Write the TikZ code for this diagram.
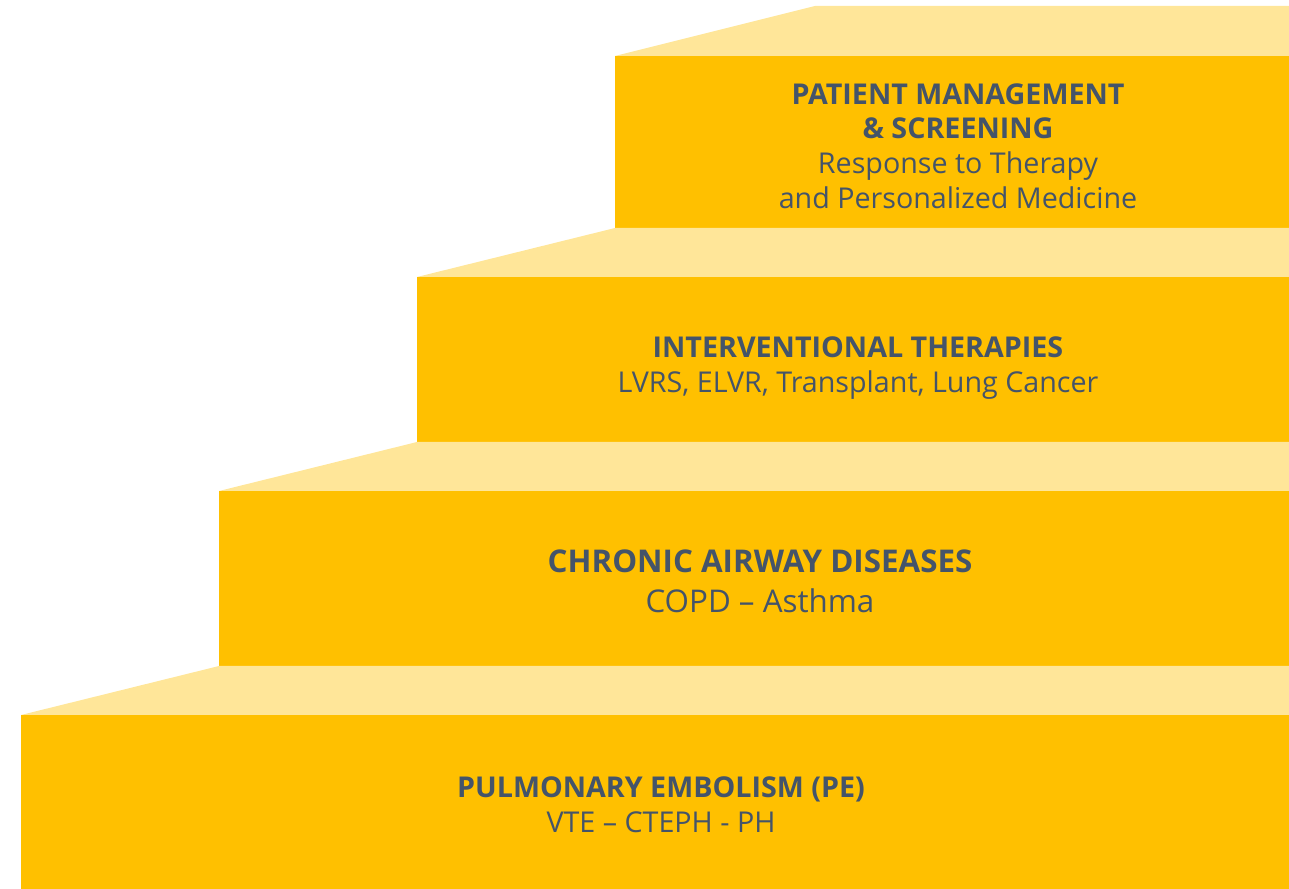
\documentclass[tikz,border=0pt]{standalone}
\usepackage{fontspec}
\setmainfont{Open Sans}

\definecolor{stepfront}{HTML}{FFC000}
\definecolor{steptop}{HTML}{FFE699}
\definecolor{steptext}{HTML}{44546A}

\tikzset{
	front/.style={fill=stepfront},
	tread/.style={fill=steptop},
	steplabel/.style={text=steptext,align=center,inner sep=0pt,font=\fontsize{21.5}{26}\selectfont},
}

\begin{document}
\begin{tikzpicture}[x=0.75pt,y=0.75pt]
	\useasboundingbox (0,0) rectangle (1289,889);

	% Step 1
	\fill[tread] (615,833) -- (815,883) -- (1289,883) -- (1289,833) -- cycle;
	\fill[front] (615,661) rectangle (1289,833);
	\node (step1) at (958,743) [steplabel] {\textbf{PATIENT MANAGEMENT}\\\textbf{\& SCREENING}\\Response to Therapy\\and Personalized Medicine};

	% Step 2
	\fill[tread] (417,612) -- (615,661) -- (1289,661) -- (1289,612) -- cycle;
	\fill[front] (417,447) rectangle (1289,612);
	\node (step2) at (858,521) [steplabel] {\textbf{INTERVENTIONAL THERAPIES}\\LVRS, ELVR, Transplant, Lung Cancer};

	% Step 3
	\fill[tread] (219,398) -- (417,447) -- (1289,447) -- (1289,398) -- cycle;
	\fill[front] (219,223) rectangle (1289,398);
	\node (step3) at (760,308) [steplabel,font=\fontsize{23.5}{30}\selectfont] {\textbf{CHRONIC AIRWAY DISEASES}\\COPD -- Asthma};

	% Step 4
	\fill[tread] (21,174) -- (219,223) -- (1289,223) -- (1289,174) -- cycle;
	\fill[front] (21,0) rectangle (1289,174);
	\node (step4) at (661,84) [steplabel] {\textbf{PULMONARY EMBOLISM (PE)}\\VTE -- CTEPH - PH};

\end{tikzpicture}
\end{document}
